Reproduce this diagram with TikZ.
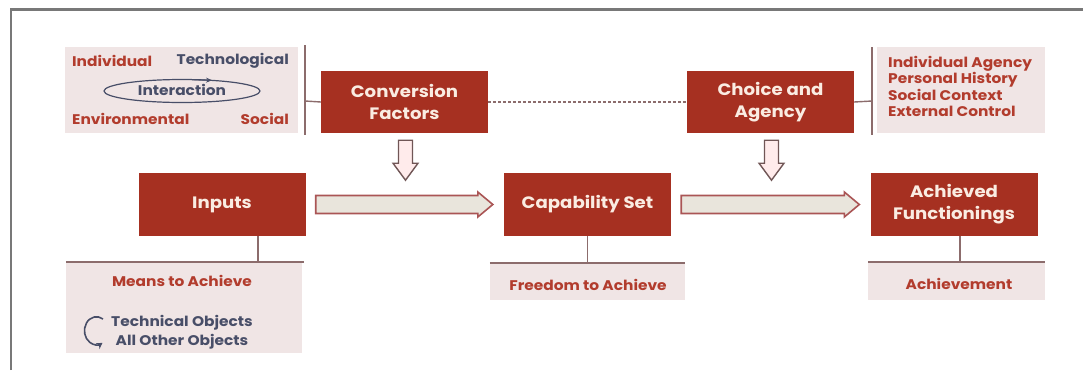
\documentclass[tikz,border=0pt]{standalone}
\usepackage{fontspec}
\setmainfont{Poppins}[FakeStretch=1.1]
\usetikzlibrary{calc,arrows.meta}
\definecolor{boxred}{RGB}{166,48,33}
\definecolor{boxtxt}{RGB}{250,236,226}
\definecolor{graybg}{RGB}{240,229,229}
\definecolor{redtxt}{RGB}{178,60,45}
\definecolor{slate}{RGB}{72,78,104}
\definecolor{linec}{RGB}{140,108,108}
\definecolor{arrfill}{RGB}{233,229,220}
\definecolor{arrline}{RGB}{170,85,85}
\definecolor{framec}{RGB}{120,120,120}
\tikzset{
  redbox/.style={fill=boxred, text=boxtxt, font=\fontsize{16.5}{22}\selectfont\bfseries, align=center, inner sep=0pt, minimum width=167pt, minimum height=62pt},
  graybox/.style={fill=graybg, inner sep=0pt},
  smalltxt/.style={font=\fontsize{14}{17}\selectfont\bfseries, inner sep=0pt},
  conn/.style={draw=linec, line width=1.4pt},
  blk/.style={fill=arrfill, draw=arrline, line width=1.6pt, line join=miter},
  blkdown/.style={fill=white!92!red, draw=linec!80!black, line width=1.4pt, line join=miter},
}
\begin{document}
\begin{tikzpicture}[x=1pt,y=-1pt]
\useasboundingbox (0,0) rectangle (1083,370);
% frame
\draw[framec, line width=2.5pt] (11,370) -- (11,9.5) -- (1083,9.5);

% gray panels
\node[graybox, minimum width=233pt, minimum height=86pt] (cfpanel) at (181.5,90) {};
\node[graybox, minimum width=168pt, minimum height=86pt] (capanel) at (961,90) {};
\node[graybox, minimum width=236pt, minimum height=90pt] (inpanel) at (184,308) {};
\node[graybox, minimum width=195pt, minimum height=36pt] (cppanel) at (587.5,282) {};
\node[graybox, minimum width=177pt, minimum height=37pt] (acpanel) at (956.5,281.5) {};

% red boxes
\node[redbox] (conv) at (404.5,102) {Conversion\\Factors};
\node[redbox] (choice) at (770.5,102) {Choice and\\Agency};
\node[redbox, minimum height=63pt] (inputs) at (222,204.5) {Inputs};
\node[redbox, minimum height=63pt] (cap) at (587.5,204.5) {Capability Set};
\node[redbox, minimum height=63pt] (ach) at (954,204.5) {Achieved\\Functionings};

% top-left panel texts
\node[smalltxt, text=redtxt, anchor=west] (tind) at (72,61) {Individual};
\node[smalltxt, text=slate, anchor=east] (ttech) at (289,61) {Technological};
\node[smalltxt, text=slate] (tinter) at (182,90) {Interaction};
\node[smalltxt, text=redtxt, anchor=west] (tenv) at (72,119) {Environmental};
\node[smalltxt, text=redtxt, anchor=east] (tsoc) at (289,119) {Social};
\draw[slate, line width=1.2pt] ($(tinter)+(0,1)$) ellipse [x radius=78, y radius=11.5];
\draw[slate, line width=1.2pt, -{Stealth[length=6pt,width=5pt]}] ($(tinter)+(10,-10.3)$) -- ($(tinter)+(30,-9.7)$);

% top-right panel text
\node[smalltxt, text=redtxt, anchor=north west, align=left, font=\fontsize{14}{16.4}\selectfont\bfseries] (agencylist) at (888,56) {Individual Agency\\Personal History\\Social Context\\External Control};

% bottom panel texts
\node[smalltxt, text=redtxt] (means) at (182,281) {Means to Achieve};
\node[smalltxt, text=slate, align=center, font=\fontsize{14}{19}\selectfont\bfseries] (objs) at (182,332) {Technical Objects\\All Other Objects};
\coordinate (rotc) at (96,331);
\draw[slate, line width=1.6pt, -{Stealth[length=6pt,width=7pt]}] ($(rotc)+(7,-12)$) arc[start angle=-57, end angle=-300, x radius=12, y radius=14];
\node[smalltxt, text=redtxt] (freedom) at (588,285) {Freedom to Achieve};
\node[smalltxt, text=redtxt] (achv) at (959,284) {Achievement};

% side brackets
\coordinate (lbar) at (305,101);
\draw[conn] (305,45) -- (305,135);
\draw[conn] (lbar) -- (conv.west);
\coordinate (rbar) at (872,101);
\draw[conn] (872,47) -- (872,135);
\draw[conn] (choice.east) -- (rbar);
\draw[linec, line width=1.2pt, dash pattern=on 3pt off 2pt] (conv.east) -- (choice.west);

% bottom ties
\draw[conn] ($(inputs.south)+(36,0)$) -- ($(inputs.south)+(36,26)$);
\draw[conn] ($(inpanel.north west)+(0,-1)$) -- ($(inpanel.north east)+(2,-1)$);
\draw[conn] (cap.south) -- ($(cap.south)+(0,27)$);
\draw[conn] ($(cppanel.north west)+(0,-1)$) -- ($(cppanel.north east)+(0,-1)$);
\draw[conn] ($(ach.south)+(6,0)$) -- ($(ach.south)+(6,26)$);
\draw[conn] ($(acpanel.north west)+(0,-1)$) -- ($(acpanel.north east)+(0,-1)$);

% horizontal block arrows
\draw[blk] let \p1=($(inputs.east)+(10,0)$), \p2=($(cap.west)+(-11,0)$) in
  (\x1,\y1+9pt) -- (\x2-15pt,\y1+9pt) -- (\x2-15pt,\y1+12.5pt) -- (\x2,\y1) -- (\x2-15pt,\y1-12.5pt) -- (\x2-15pt,\y1-9pt) -- (\x1,\y1-9pt) -- cycle;
\draw[blk] let \p1=($(cap.east)+(10,0)$), \p2=($(ach.west)+(-11,0)$) in
  (\x1,\y1+9pt) -- (\x2-15pt,\y1+9pt) -- (\x2-15pt,\y1+12.5pt) -- (\x2,\y1) -- (\x2-15pt,\y1-12.5pt) -- (\x2-15pt,\y1-9pt) -- (\x1,\y1-9pt) -- cycle;

% down block arrows
\draw[blkdown] let \p1=($(conv.south)+(1,7)$), \p2=($(conv.south)+(1,47)$) in
  (\x1-7pt,\y1) -- (\x1+7pt,\y1) -- (\x1+7pt,\y2+17pt) -- (\x1+12.5pt,\y2+17pt) -- (\x1,\y2) -- (\x1-12.5pt,\y2+17pt) -- (\x1-7pt,\y2+17pt) -- cycle;
\draw[blkdown] let \p1=($(choice.south)+(1,7)$), \p2=($(choice.south)+(1,47)$) in
  (\x1-7pt,\y1) -- (\x1+7pt,\y1) -- (\x1+7pt,\y2+17pt) -- (\x1+12.5pt,\y2+17pt) -- (\x1,\y2) -- (\x1-12.5pt,\y2+17pt) -- (\x1-7pt,\y2+17pt) -- cycle;
\end{tikzpicture}
\end{document}
